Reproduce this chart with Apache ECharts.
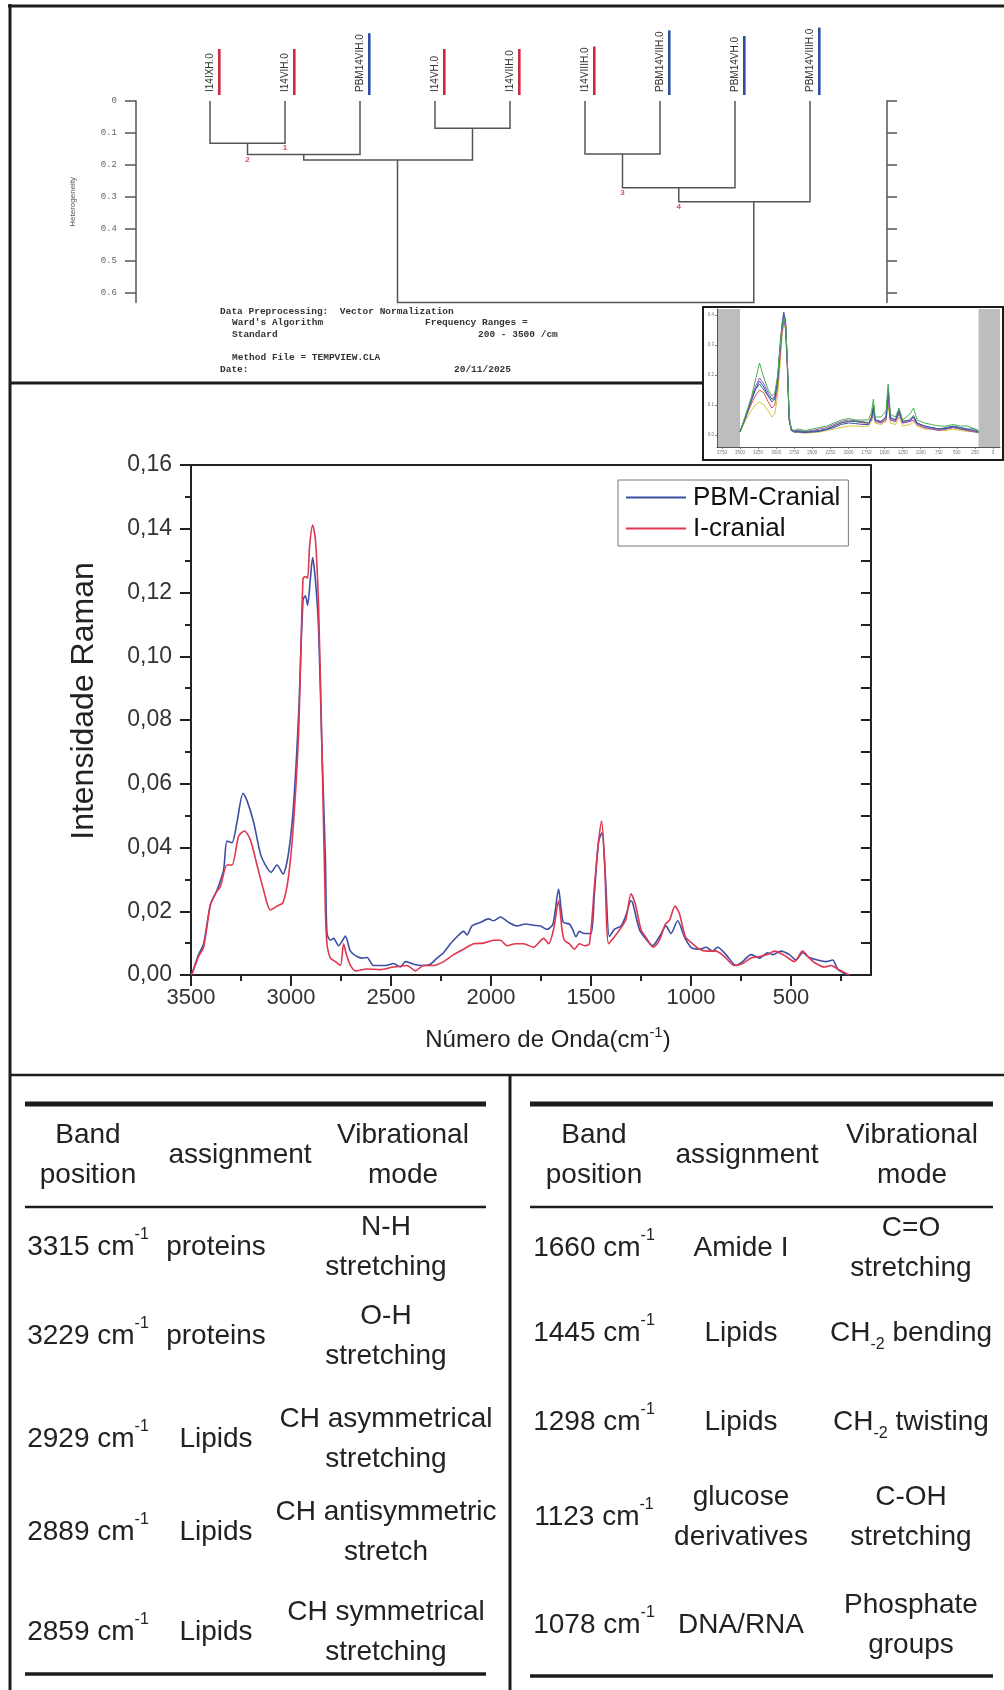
<!DOCTYPE html>
<html>
<head>
<meta charset="utf-8">
<script src="https://cdn.jsdelivr.net/npm/echarts@6/dist/echarts.min.js"></script>
<style>
html,body{margin:0;padding:0;background:#fff;}
#c{width:1004px;height:1690px;}
</style>
</head>
<body>
<div id="c"></div>
<script>
// ---------------- DATA ----------------
// Dendrogram (Ward clustering)
const dendroLeafNames = ['I14IXH.0','I14VIH.0','PBM14VIH.0','I14VH.0','I14VIIH.0','I14VIIIH.0','PBM14VIIH.0','PBM14VH.0','PBM14VIIIH.0'];
const dendroLeafGroups = ['I','I','PBM','I','I','I','PBM','PBM','PBM'];
// [leftX, leftHeight, rightX, rightHeight, mergeHeight]  (x in leaf units)
const dendroMerges = [
  [0, 0, 1, 0, 0.132],
  [0.5, 0.132, 2, 0, 0.167],
  [3, 0, 4, 0, 0.085],
  [1.25, 0.167, 3.5, 0.085, 0.184],
  [5, 0, 6, 0, 0.166],
  [5.5, 0.166, 7, 0, 0.271],
  [6.25, 0.271, 8, 0, 0.315],
  [2.5, 0.184, 7.25, 0.315, 0.63]
];
const dendroNodeLabels = [[1.0, 0.132, 1], [0.5, 0.167, 2], [5.5, 0.271, 3], [6.25, 0.315, 4]];
const dendroTicks = [0, 0.1, 0.2, 0.3, 0.4, 0.5, 0.6];

// Main Raman spectra
const wnPBM = [3497,3462,3437,3403,3370,3337,3320,3295,3270,3240,3220,3187,3153,3128,3100,3070,3040,3012,2987,2962,2940,2928,2917,2903,2892,2878,2862,2845,2828,2820,2803,2787,2762,2745,2728,2703,2670,2645,2620,2587,2528,2487,2453,2428,2387,2345,2303,2270,2237,2203,2170,2137,2120,2095,2053,2012,1987,1953,1912,1870,1828,1787,1753,1720,1690,1662,1650,1638,1608,1592,1575,1558,1533,1500,1483,1462,1445,1428,1408,1383,1350,1325,1300,1292,1258,1228,1192,1158,1125,1100,1067,1033,1000,958,925,892,867,825,775,742,700,658,617,592,550,508,475,442,408,367,325,292,267,242,217];
const intPBM = [0,0.0064,0.0098,0.022,0.0266,0.033,0.042,0.0415,0.048,0.057,0.0547,0.048,0.038,0.0345,0.0322,0.0345,0.0317,0.0384,0.0536,0.0817,0.1176,0.119,0.116,0.1244,0.131,0.124,0.1085,0.070,0.0367,0.013,0.0109,0.0115,0.0092,0.0105,0.0122,0.0075,0.0058,0.0053,0.0055,0.003,0.003,0.0036,0.0025,0.0042,0.0034,0.003,0.0034,0.0053,0.007,0.0098,0.012,0.0137,0.0126,0.0154,0.0165,0.0176,0.017,0.0182,0.0165,0.0154,0.016,0.0156,0.0154,0.0143,0.016,0.027,0.021,0.0165,0.016,0.0143,0.012,0.0137,0.013,0.013,0.0255,0.042,0.0446,0.031,0.012,0.0143,0.0154,0.0188,0.0233,0.0227,0.0143,0.0115,0.0092,0.012,0.0154,0.013,0.017,0.012,0.0087,0.0081,0.0087,0.0075,0.0087,0.0064,0.003,0.0042,0.0064,0.0053,0.007,0.0064,0.0075,0.0064,0.0047,0.007,0.0055,0.0047,0.0042,0.0047,0.0019,0.0008,0];
const wnI = [3497,3462,3437,3403,3378,3353,3320,3295,3262,3233,3203,3170,3137,3103,3070,3040,3012,2987,2962,2940,2928,2917,2907,2892,2878,2862,2845,2828,2820,2803,2778,2753,2737,2723,2703,2678,2620,2553,2487,2420,2378,2337,2287,2237,2187,2137,2087,2037,1987,1953,1920,1878,1837,1787,1737,1712,1687,1662,1645,1633,1608,1583,1558,1533,1508,1483,1462,1447,1433,1412,1383,1350,1325,1300,1278,1250,1222,1188,1158,1128,1108,1080,1058,1028,992,958,917,875,833,783,742,700,658,617,583,558,525,483,442,408,375,333,300,267,233,208];
const intI = [0,0.0058,0.0087,0.022,0.0255,0.0278,0.0345,0.0345,0.0435,0.0452,0.0424,0.0345,0.0266,0.0204,0.0216,0.0227,0.0311,0.048,0.076,0.1244,0.125,0.1245,0.1345,0.1412,0.1367,0.1154,0.0704,0.0199,0.0098,0.0053,0.0042,0.003,0.0098,0.0064,0.003,0.0013,0.0019,0.0017,0.0025,0.003,0.0013,0.003,0.003,0.0042,0.0064,0.0081,0.0098,0.01,0.0109,0.0109,0.0092,0.0098,0.0098,0.0087,0.0115,0.0098,0.0143,0.0233,0.0143,0.0109,0.0098,0.0081,0.0098,0.0092,0.0098,0.0278,0.042,0.0483,0.0367,0.0098,0.012,0.0148,0.0176,0.0255,0.0221,0.0143,0.0115,0.0087,0.0109,0.016,0.0171,0.0216,0.0193,0.012,0.0098,0.0081,0.0075,0.0075,0.0058,0.003,0.0036,0.0053,0.0058,0.0064,0.0075,0.007,0.0058,0.0042,0.0075,0.0053,0.0036,0.0025,0.003,0.0019,0.0008,0];
const xMajorTicks = [3500,3000,2500,2000,1500,1000,500];
const xMinorTicks = [3250,2750,2250,1750,1250,750,250];
const seriesNames = ['PBM-Cranial','I-cranial'];

// Inset thumbnail spectra
const insetWn = [3500,3420,3350,3290,3230,3170,3110,3060,3020,2980,2950,2920,2895,2870,2845,2820,2790,2750,2700,2600,2500,2400,2300,2200,2100,2000,1900,1800,1720,1680,1655,1630,1550,1480,1450,1420,1350,1300,1250,1150,1100,1050,950,850,750,650,550,450,350,250,200];
const insetGreen  = [0.01,0.07,0.12,0.18,0.24,0.19,0.15,0.13,0.14,0.2,0.28,0.36,0.39,0.37,0.25,0.06,0.02,0.015,0.02,0.015,0.02,0.025,0.03,0.04,0.05,0.055,0.05,0.05,0.05,0.08,0.12,0.06,0.06,0.08,0.17,0.07,0.06,0.09,0.05,0.07,0.09,0.05,0.04,0.035,0.03,0.03,0.035,0.03,0.03,0.02,0.015];
const insetBlue   = [0.01,0.06,0.11,0.15,0.18,0.16,0.13,0.11,0.12,0.19,0.29,0.37,0.41,0.38,0.24,0.05,0.015,0.01,0.01,0.008,0.01,0.012,0.018,0.025,0.035,0.04,0.038,0.035,0.035,0.06,0.09,0.05,0.045,0.06,0.15,0.06,0.05,0.08,0.045,0.05,0.06,0.04,0.03,0.025,0.02,0.025,0.03,0.025,0.02,0.02,0.01];
const insetPurple = [0.015,0.06,0.12,0.16,0.19,0.17,0.14,0.12,0.13,0.18,0.27,0.35,0.38,0.36,0.23,0.06,0.02,0.015,0.015,0.012,0.015,0.02,0.025,0.035,0.045,0.05,0.048,0.045,0.04,0.05,0.08,0.045,0.04,0.05,0.12,0.05,0.045,0.07,0.04,0.045,0.05,0.035,0.025,0.02,0.015,0.02,0.025,0.02,0.015,0.01,0.008];
const insetYellow = [0.01,0.05,0.08,0.1,0.11,0.1,0.08,0.06,0.07,0.13,0.22,0.33,0.37,0.35,0.22,0.05,0.015,0.01,0.008,0.006,0.008,0.01,0.015,0.02,0.025,0.03,0.03,0.028,0.03,0.045,0.07,0.04,0.035,0.045,0.1,0.04,0.035,0.06,0.03,0.035,0.045,0.03,0.02,0.02,0.015,0.015,0.02,0.015,0.012,0.01,0.008];
const insetRed    = [0.012,0.06,0.1,0.13,0.15,0.14,0.11,0.09,0.1,0.16,0.25,0.34,0.38,0.36,0.22,0.05,0.02,0.012,0.012,0.01,0.012,0.015,0.02,0.03,0.04,0.045,0.045,0.04,0.04,0.06,0.09,0.05,0.04,0.055,0.13,0.05,0.045,0.075,0.04,0.045,0.06,0.035,0.025,0.02,0.02,0.02,0.025,0.02,0.015,0.012,0.01];
const insetTeal   = [0.012,0.065,0.11,0.15,0.17,0.15,0.13,0.12,0.12,0.18,0.28,0.36,0.4,0.37,0.24,0.05,0.015,0.01,0.012,0.01,0.012,0.015,0.02,0.03,0.04,0.045,0.045,0.042,0.04,0.055,0.1,0.05,0.045,0.06,0.16,0.055,0.05,0.085,0.045,0.05,0.065,0.04,0.03,0.025,0.02,0.022,0.028,0.022,0.018,0.015,0.01];
const insetXTicks = [0,250,500,750,1000,1250,1500,1750,2000,2250,2500,2750,3000,3250,3500,3750];
const insetYTicks = [0,0.1,0.2,0.3,0.4];
const insetExcluded = [[3500, 3819], [-97, 200]];

// Tables
const tableHeader = [['Band','position'], ['assignment'], ['Vibrational','mode']];
const tableLeftBand = ['3315','3229','2929','2889','2859'];
const tableLeftAssign = [['proteins'],['proteins'],['Lipids'],['Lipids'],['Lipids']];
const tableLeftMode = [['N-H','stretching'],['O-H','stretching'],['CH asymmetrical','stretching'],['CH antisymmetric','stretch'],['CH symmetrical','stretching']];
const tableRightBand = ['1660','1445','1298','1123','1078'];
const tableRightAssign = [['Amide I'],['Lipids'],['Lipids'],['glucose','derivatives'],['DNA/RNA']];
const tableRightMode = [['C=O','stretching'],['CH{s|-2}{a| bending}'],['CH{s|-2}{a| twisting}'],['C-OH','stretching'],['Phosphate','groups']];

// ---------------- LAYOUT / STYLE ----------------
const FONT = 'Liberation Sans';
const NARROW = '"Liberation Sans Narrow", "Arial Narrow", "Liberation Sans"';
const MONO = 'Liberation Mono';
const BLUE = '#3d4fa3', RED = '#e0364f';
// dendrogram grid spans from left axis (136) to right axis (887); leaf 0 at 210, leaf spacing 75
const D_LEFT = 136, D_RIGHT_X = 887, D_TOP = 101, D_H = 201.6, LEAF0 = 210, LEAF_STEP = 75;
const D_XMIN = (D_LEFT - LEAF0) / LEAF_STEP, D_XMAX = (D_RIGHT_X - LEAF0) / LEAF_STEP;
const M_LEFT = 191, M_TOP = 465, M_W = 680, M_H = 510;
const I_LEFT = 717, I_TOP = 309, I_W = 283, I_H = 138;

const chart = echarts.init(document.getElementById('c'), null, {renderer: 'canvas'});
const pair = (xs, ys) => xs.map((x, i) => [x, ys[i]]);

const LEAF_FONT = 10;
const measure = (() => {
  const ctx = document.createElement('canvas').getContext('2d');
  ctx.font = LEAF_FONT + 'px "' + FONT + '"';
  return t => ctx.measureText(t).width;
})();

// table text helpers
const richT = {
  a: {fontSize: 28, fontFamily: FONT, fill: '#222', lineHeight: 40},
  p: {fontSize: 16, fontFamily: FONT, fill: '#222', lineHeight: 26, verticalAlign: 'top'},
  s: {fontSize: 16, fontFamily: FONT, fill: '#222', lineHeight: 12, verticalAlign: 'bottom'}
};
function tText(x, y, lines) {
  const txt = lines.map(l => l.indexOf('{') === -1 ? '{a|' + l + '}' : (l.startsWith('CH{') ? '{a|CH}' + l.slice(2) : l)).join('\n');
  return {type: 'text', z: 20, style: {text: txt, x: x, y: y, align: 'center', verticalAlign: 'middle', fontSize: 28, fontFamily: FONT, fill: '#222', rich: richT}};
}
function bandText(x, y, v) {
  return {type: 'text', z: 20, style: {text: '{a|' + v + ' cm}{p|-1}', x: x, y: y, align: 'center', verticalAlign: 'middle', fontSize: 28, fontFamily: FONT, fill: '#222', rich: richT}};
}
const leftRowY = [1247, 1336, 1439, 1532, 1632];
const rightRowY = [1248, 1333, 1422, 1517, 1625];
const LCOL = {band: 88, assign: 216, mode: 386, hBand: 88, hAssign: 240, hMode: 403};
const RCOL = {band: 594, assign: 741, mode: 911, hBand: 594, hAssign: 747, hMode: 912};

const graphics = [];
const line = (x1, y1, x2, y2, w, z) => ({type: 'line', z: z || 1, shape: {x1, y1, x2, y2}, style: {stroke: '#1c1c1c', lineWidth: w}});
// panel frame
graphics.push(line(10, 4, 10, 1690, 3));
graphics.push(line(8, 6, 1004, 6, 3));
graphics.push(line(10, 383, 1004, 383, 3));
graphics.push(line(10, 1075, 1004, 1075, 2.5));
graphics.push(line(510, 1075, 510, 1690, 3));
// inset box
graphics.push({type: 'rect', z: 3, shape: {x: 703, y: 307, width: 300, height: 153}, style: {fill: '#fff', stroke: '#1c1c1c', lineWidth: 2}});
// table rules
[[25, 486], [530, 993]].forEach(([a, b], k) => {
  graphics.push(line(a, 1104, b, 1104, 5));
  graphics.push(line(a, 1207, b, 1207, 2.5));
  graphics.push(line(a, k ? 1676 : 1674, b, k ? 1676 : 1674, 3.5));
});
// table headers
[LCOL, RCOL].forEach(C => {
  graphics.push(tText(C.hBand, 1155, tableHeader[0]));
  graphics.push(tText(C.hAssign, 1155, tableHeader[1]));
  graphics.push(tText(C.hMode, 1155, tableHeader[2]));
});
tableLeftBand.forEach((b, i) => {
  graphics.push(bandText(LCOL.band, leftRowY[i], b));
  graphics.push(tText(LCOL.assign, leftRowY[i], tableLeftAssign[i]));
  graphics.push(tText(LCOL.mode, leftRowY[i], tableLeftMode[i]));
});
tableRightBand.forEach((b, i) => {
  graphics.push(bandText(RCOL.band, rightRowY[i], b));
  graphics.push(tText(RCOL.assign, rightRowY[i], tableRightAssign[i]));
  graphics.push(tText(RCOL.mode, rightRowY[i], tableRightMode[i]));
});
// dendrogram info text block
const mono = (x, y, t) => ({type: 'text', z: 20, style: {text: t, x, y, verticalAlign: 'middle', fontSize: 9.5, fontFamily: MONO, fontWeight: 'bold', fill: '#333'}});
graphics.push(mono(220, 312, 'Data Preprocessing:  Vector Normalization'));
graphics.push(mono(232, 323, "Ward's Algorithm"));
graphics.push(mono(425, 323, 'Frequency Ranges ='));
graphics.push(mono(232, 335, 'Standard'));
graphics.push(mono(478, 335, '200 - 3500 /cm'));
graphics.push(mono(232, 358, 'Method File = TEMPVIEW.CLA'));
graphics.push(mono(220, 370, 'Date:'));
graphics.push(mono(454, 370, '20/11/2025'));
// main y-axis title (rotated)
graphics.push({type: 'text', z: 20, x: 84, y: 701, rotation: Math.PI / 2,
  style: {text: 'Intensidade Raman', align: 'center', verticalAlign: 'middle', fontSize: 32, fontFamily: FONT, fill: '#222'}});

const insetSets = [insetYellow, insetRed, insetPurple, insetTeal, insetBlue, insetGreen];
const insetSetColors = ['#d4c43a', '#d9534f', '#9c4fd0', '#2a7a6a', '#3f51b5', '#4caf50'];

const option = {
  animation: false,
  backgroundColor: '#fff',
  textStyle: {fontFamily: FONT},
  grid: [
    {left: D_LEFT, top: D_TOP, width: D_RIGHT_X - D_LEFT, height: D_H, outerBoundsMode: 'none', containLabel: false},
    {left: M_LEFT, top: M_TOP, width: M_W, height: M_H, outerBoundsMode: 'none', containLabel: false},
    {left: I_LEFT, top: I_TOP, width: I_W, height: I_H, outerBoundsMode: 'none', containLabel: false}
  ],
  legend: {
    data: seriesNames, orient: 'vertical', left: 618, top: 480,
    icon: 'rect', itemWidth: 60, itemHeight: 1.8, itemGap: 2,
    padding: [3, 8, 3, 8], borderColor: '#777', borderWidth: 1, backgroundColor: '#fff',
    textStyle: {fontSize: 26, color: '#111', fontFamily: FONT, lineHeight: 29, padding: [0, 0, 0, 2]},
    z: 20
  },
  xAxis: [
    {gridIndex: 0, type: 'value', min: D_XMIN, max: D_XMAX, position: 'top',
     axisLine: {show: false}, axisTick: {show: false}, splitLine: {show: false},
     axisLabel: {customValues: dendroLeafNames.map((n, i) => i), rotate: 90, margin: 9, fontSize: LEAF_FONT, color: '#333', fontFamily: FONT,
                 formatter: v => dendroLeafNames[Math.round(v)]}},
    {gridIndex: 1, type: 'value', inverse: true, min: 100, max: 3500, position: 'bottom',
     name: 'Número de Onda(cm{sup|-1})', nameLocation: 'middle', nameGap: 50,
     nameTextStyle: {fontSize: 24, color: '#222', fontFamily: NARROW, lineHeight: 30, padding: [0, 0, 0, 34],
                     rich: {sup: {fontSize: 15, fontFamily: NARROW, color: '#222', verticalAlign: 'top', lineHeight: 15}}},
     axisLine: {onZero: false, lineStyle: {color: '#222', width: 2}},
     axisTick: {customValues: xMajorTicks, length: 11, lineStyle: {color: '#222', width: 2}},
     axisLabel: {customValues: xMajorTicks, fontSize: 22, color: '#333', margin: 12, fontFamily: NARROW, formatter: v => String(v)},
     splitLine: {show: false}},
    {gridIndex: 1, type: 'value', inverse: true, min: 100, max: 3500, position: 'bottom',
     axisLine: {show: false, onZero: false}, axisLabel: {show: false}, splitLine: {show: false},
     axisTick: {customValues: xMinorTicks, length: 6, lineStyle: {color: '#222', width: 2}}},
    {gridIndex: 1, type: 'value', inverse: true, min: 100, max: 3500, position: 'top',
     axisLine: {onZero: false, lineStyle: {color: '#222', width: 2}}, axisTick: {show: false}, axisLabel: {show: false}, splitLine: {show: false}},
    {gridIndex: 2, type: 'value', inverse: true, min: -97, max: 3819, position: 'bottom', z: 12,
     axisLine: {onZero: false, lineStyle: {color: '#555', width: 1}},
     axisTick: {customValues: insetXTicks, length: 2, lineStyle: {color: '#666', width: 0.8}},
     axisLabel: {customValues: insetXTicks, fontSize: 4.5, color: '#777', margin: 3, formatter: v => String(v)},
     splitLine: {show: false}}
  ],
  yAxis: [
    {gridIndex: 0, type: 'value', inverse: true, min: 0, max: 0.63, position: 'left',
     name: 'Heterogeneity', nameLocation: 'middle', nameGap: 59,
     nameTextStyle: {fontSize: 8, color: '#555', fontFamily: FONT},
     axisLine: {onZero: false, lineStyle: {color: '#555', width: 1.5}},
     axisTick: {customValues: dendroTicks, length: 11, lineStyle: {color: '#555', width: 1.5}},
     axisLabel: {customValues: dendroTicks, margin: 19, fontSize: 9, color: '#666', fontFamily: MONO,
                 formatter: v => v === 0 ? '0' : v.toFixed(1)},
     splitLine: {show: false}},
    {gridIndex: 0, type: 'value', inverse: true, min: 0, max: 0.63, position: 'right',
     axisLine: {onZero: false, lineStyle: {color: '#555', width: 1.5}},
     axisTick: {customValues: dendroTicks, length: 10, lineStyle: {color: '#555', width: 1.5}},
     axisLabel: {show: false}, splitLine: {show: false}},
    {gridIndex: 1, type: 'value', min: 0, max: 0.16, interval: 0.02, position: 'left',
     axisLine: {onZero: false, lineStyle: {color: '#222', width: 2}},
     axisTick: {length: 11, lineStyle: {color: '#222', width: 2}},
     minorTick: {show: true, splitNumber: 2, length: 6, lineStyle: {color: '#222', width: 2}},
     axisLabel: {fontSize: 23, color: '#333', margin: 19, fontFamily: FONT, formatter: v => v.toFixed(2).replace('.', ',')},
     splitLine: {show: false}},
    {gridIndex: 1, type: 'value', min: 0, max: 0.16, interval: 0.01, position: 'right',
     axisLine: {onZero: false, lineStyle: {color: '#222', width: 2}},
     axisTick: {inside: true, length: 10, lineStyle: {color: '#222', width: 2}},
     axisLabel: {show: false}, splitLine: {show: false}},
    {gridIndex: 2, type: 'value', min: -0.04, max: 0.42, position: 'left', z: 12,
     axisLine: {onZero: false, lineStyle: {color: '#555', width: 1}},
     axisTick: {customValues: insetYTicks, length: 2, lineStyle: {color: '#666', width: 0.8}},
     axisLabel: {customValues: insetYTicks, fontSize: 4.5, color: '#777', margin: 3, formatter: v => v.toFixed(1)},
     splitLine: {show: false}}
  ],
  graphic: {elements: graphics},
  series: [
    // dendrogram links
    {type: 'custom', xAxisIndex: 0, yAxisIndex: 0, clip: false, silent: true, z: 5,
     data: dendroMerges,
     renderItem: (params, api) => {
       const lx = api.value(0), lh = api.value(1), rx = api.value(2), rh = api.value(3), mh = api.value(4);
       return {type: 'polyline', shape: {points: [api.coord([lx, lh]), api.coord([lx, mh]), api.coord([rx, mh]), api.coord([rx, rh])]},
               style: {stroke: '#555', lineWidth: 1.5, fill: null}};
     }},
    // dendrogram group bars next to leaf labels
    {type: 'custom', xAxisIndex: 0, yAxisIndex: 0, clip: false, silent: true, z: 5,
     data: dendroLeafNames.map((n, i) => [i, 0]),
     renderItem: (params, api) => {
       const i = params.dataIndex;
       const p = api.coord([api.value(0), api.value(1)]);
       const len = Math.max(measure(dendroLeafNames[i]), 42) + 4;
       const isI = dendroLeafGroups[i] === 'I';
       return {type: 'rect', shape: {x: p[0] + 8, y: p[1] - 6 - len, width: 2.6, height: len},
               style: {fill: isI ? '#d0283c' : '#2a4fa0'}};
     }},
    // dendrogram node numbers
    {type: 'scatter', xAxisIndex: 0, yAxisIndex: 0, symbolSize: 0.1, silent: true, z: 6,
     data: dendroNodeLabels,
     label: {show: true, position: 'bottom', distance: 1, fontSize: 8, fontWeight: 'bold', color: '#d02030', formatter: p => String(p.value[2])}},
    // main spectra
    {name: seriesNames[0], type: 'line', xAxisIndex: 1, yAxisIndex: 2, data: pair(wnPBM, intPBM),
     symbol: 'none', smooth: 0.25, lineStyle: {color: BLUE, width: 1.6}, itemStyle: {color: BLUE}, z: 4},
    {name: seriesNames[1], type: 'line', xAxisIndex: 1, yAxisIndex: 2, data: pair(wnI, intI),
     symbol: 'none', smooth: 0.25, lineStyle: {color: RED, width: 1.6}, itemStyle: {color: RED}, z: 5},
    // inset spectra (first one carries the excluded-range bands)
    ...insetSets.map((s, k) => {
      const ser = {type: 'line', xAxisIndex: 4, yAxisIndex: 4, data: pair(insetWn, s), symbol: 'none',
        silent: true, z: 10, lineStyle: {color: insetSetColors[k], width: 1}};
      if (k === 0) ser.markArea = {silent: true, z: 9, itemStyle: {color: '#bdbdbd', opacity: 1}, data: insetExcluded.map(r => [{xAxis: r[0]}, {xAxis: r[1]}])};
      return ser;
    })
  ]
};
chart.setOption(option);
</script>
</body>
</html>
